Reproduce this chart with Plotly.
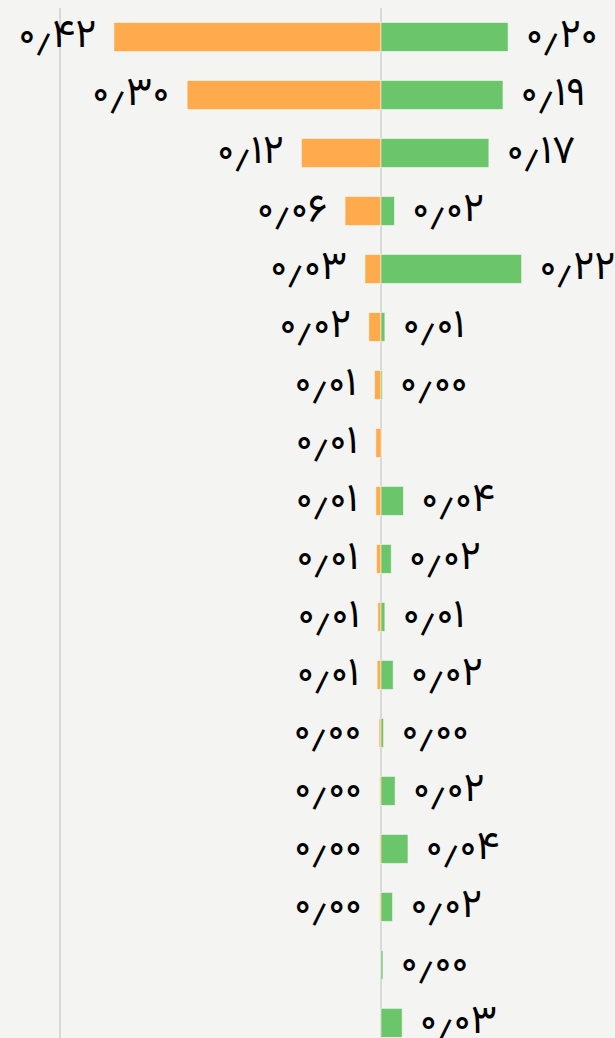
import plotly.graph_objects as go

rows = list(range(18))
orange_vals = [0.416, 0.302, 0.124, 0.056, 0.025, 0.019, 0.010, 0.008, 0.008,
               0.007, 0.005, 0.006, 0.003, 0.002, 0.002, 0.002, None, None]
green_vals = [0.198, 0.190, 0.168, 0.021, 0.219, 0.006, 0.002, None, 0.035,
              0.016, 0.006, 0.019, 0.004, 0.022, 0.042, 0.018, 0.003, 0.033]

PDIG = str.maketrans("0123456789.", "۰۱۲۳۴۵۶۷۸۹٫")


def fa(v):
    if v is None:
        return ""
    return f"{v:.2f}".translate(PDIG)


FONT = "Vazirmatn, 'Noto Sans Arabic', 'DejaVu Sans', sans-serif"
BG = "#f4f4f2"
PAD = "\u00a0\u200a"

fig = go.Figure()
fig.add_trace(go.Bar(
    y=rows, x=[-v if v is not None else None for v in orange_vals],
    orientation="h", width=0.5,
    marker=dict(color="#ffaa4c", line=dict(color="rgba(255,255,255,0.5)", width=1)),
    text=[fa(v) + PAD if v is not None else "" for v in orange_vals],
    textposition="outside", cliponaxis=False, constraintext="none",
    textfont=dict(family=FONT, size=40, color="#000"),
    hoverinfo="skip", showlegend=False,
))
fig.add_trace(go.Bar(
    y=rows, x=green_vals,
    orientation="h", width=0.5,
    marker=dict(color="#6bc66b", line=dict(color="rgba(255,255,255,0.5)", width=1)),
    text=[PAD + fa(v) if v is not None else "" for v in green_vals],
    textposition="outside", cliponaxis=False, constraintext="none",
    textfont=dict(family=FONT, size=40, color="#000"),
    hoverinfo="skip", showlegend=False,
))

fig.update_layout(
    width=615, height=1038,
    margin=dict(l=0, r=0, t=8, b=0),
    paper_bgcolor=BG, plot_bgcolor=BG,
    barmode="relative",
    xaxis=dict(range=[-0.5935, 0.3645], dtick=0.5, tick0=0, showticklabels=False,
               showgrid=True, gridcolor="#d9d9d9", gridwidth=1.5,
               zeroline=True, zerolinecolor="#d9d9d9", zerolinewidth=2, fixedrange=True),
    yaxis=dict(range=[17.26, -0.5], showticklabels=False, showgrid=False,
               zeroline=False, fixedrange=True),
    uniformtext=dict(mode=False),
)

fig.write_html("out.html", config={"displayModeBar": False},
               post_script="document.body.style.margin='0';document.body.style.background='#f4f4f2';")
